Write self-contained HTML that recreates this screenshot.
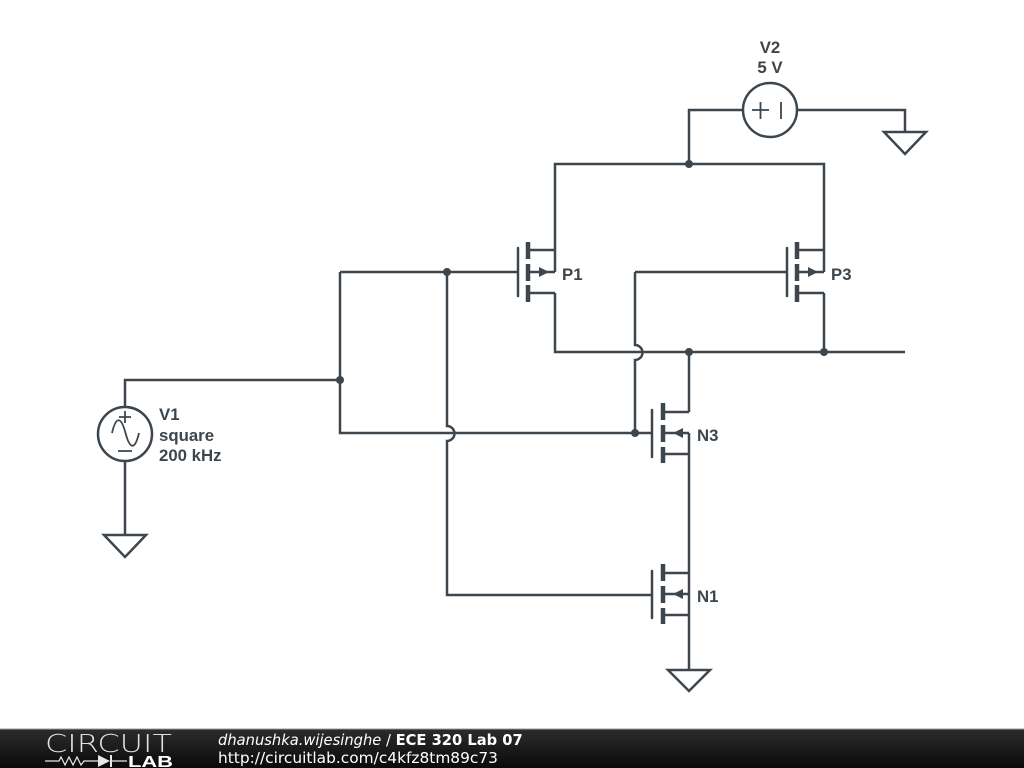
<!DOCTYPE html>
<html>
<head>
<meta charset="utf-8">
<style>
html,body{margin:0;padding:0;width:1024px;height:768px;overflow:hidden;background:#fff}
svg{display:block}
.w{fill:none;stroke:#3d464d;stroke-width:2.5}
.t{fill:none;stroke:#3d464d;stroke-width:1.8}
.c{fill:#3d464d}
.l{font-family:"Liberation Sans",sans-serif;font-weight:bold;font-size:16.8px;fill:#3d464d}
.f{font-family:"DejaVu Sans",sans-serif;font-size:14.7px;fill:#fff}
</style>
</head>
<body>
<svg width="1024" height="768" viewBox="0 0 1024 768" xmlns="http://www.w3.org/2000/svg">
<defs>
<linearGradient id="g" x1="0" y1="0" x2="0" y2="1">
<stop offset="0" stop-color="#2c2c2c"/><stop offset="1" stop-color="#0a0a0a"/>
</linearGradient>
</defs>
<rect width="1024" height="768" fill="#fff"/>

<path class="w" d="M689 164V110H743M797 110H905V132M555 250V164H824V250M689 164"/>
<path class="w" d="M340 272H517M340 272V433H447M125 407V380H340"/>
<path class="w" d="M447 272V426A7.5 7.5 0 0 1 447 441V595H652"/>
<path class="w" d="M447 433H652"/>
<path class="w" d="M635 272H786M635 272V345A7.5 7.5 0 0 1 635 360V433"/>
<path class="w" d="M555 293V352H905M824 293V352M689 352V412M689 433V670"/>
<path class="w" d="M125 461V535"/>

<!-- P1 -->
<g>
<path class="w" d="M518 248V296" stroke-linecap="round"/>
<path class="w" d="M528 250H555M528 272H555M528 293H555"/>
<path class="w" style="stroke-width:4.5" d="M528 242V259M528 264V281M528 285V302"/>
<path class="c" d="M539 267L549 272L539 277Z"/>
</g>
<!-- P3 -->
<g>
<path class="w" d="M787 248V296" stroke-linecap="round"/>
<path class="w" d="M797 250H824M797 272H824M797 293H824"/>
<path class="w" style="stroke-width:4.5" d="M797 242V259M797 264V281M797 285V302"/>
<path class="c" d="M808 267L818 272L808 277Z"/>
</g>
<path class="w" d="M555 250V272M824 250V272"/>
<!-- N3 -->
<g>
<path class="w" d="M652 410V457" stroke-linecap="round"/>
<path class="w" d="M663 412H689M663 433H689M663 454H689"/>
<path class="w" style="stroke-width:4.5" d="M663 403V420M663 425V442M663 447V463"/>
<path class="c" d="M683 428L673 433L683 438Z"/>
</g>
<!-- N1 -->
<g>
<path class="w" d="M652 571V618" stroke-linecap="round"/>
<path class="w" d="M663 573H689M663 594H689M663 615H689"/>
<path class="w" style="stroke-width:4.5" d="M663 564V581M663 586V603M663 608V624"/>
<path class="c" d="M683 589L673 594L683 599Z"/>
</g>

<!-- V2 -->
<circle class="w" cx="770" cy="110" r="27"/>
<path class="t" d="M752 110H769M760.500 102V119M781 102V119"/>
<!-- V1 -->
<circle class="w" cx="125" cy="434" r="27"/>
<path class="t" d="M119 417H131M125 411V423M118 451H132"/>
<path class="t" d="M112 433C116 416 121 416 125.500 433C130 450 135 450 139 433"/>

<!-- grounds -->
<path class="w" d="M884 132H926L905 154Z"/>
<path class="w" d="M104 535H146L125 557Z"/>
<path class="w" d="M668 670H710L689 691Z"/>

<!-- junctions -->
<circle class="c" cx="689" cy="164" r="4"/>
<circle class="c" cx="447" cy="272" r="4"/>
<circle class="c" cx="340" cy="380" r="4"/>
<circle class="c" cx="689" cy="352" r="4"/>
<circle class="c" cx="824" cy="352" r="4"/>
<circle class="c" cx="635" cy="433" r="4"/>

<!-- labels -->
<text class="l" x="562" y="280">P1</text>
<text class="l" x="831" y="280">P3</text>
<text class="l" x="697" y="441">N3</text>
<text class="l" x="697" y="602">N1</text>
<text class="l" x="770" y="53" text-anchor="middle">V2</text>
<text class="l" x="770" y="73" text-anchor="middle">5 V</text>
<text class="l" x="159" y="420">V1</text>
<text class="l" x="159" y="441">square</text>
<text class="l" x="159" y="461">200 kHz</text>

<!-- footer -->
<rect x="0" y="729" width="1024" height="39" fill="url(#g)"/>
<rect x="0" y="728.500" width="1024" height="1" fill="#9a9a9a"/>
<text x="45" y="752" textLength="127" lengthAdjust="spacingAndGlyphs" style="font-family:'DejaVu Sans',sans-serif;font-weight:200;font-size:25px;fill:#e0e0e0">CIRCUIT</text>
<path fill="none" stroke="#e8e8e8" stroke-width="1.2" d="M45 761H59L61 757L65 765L69 757L73 765L77 757L81 765L84 761H98M110 761H127"/>
<path fill="#e8e8e8" d="M98 755L110 761L98 767Z"/>
<path stroke="#e8e8e8" stroke-width="2" d="M111 755V767"/>
<text x="128" y="767" textLength="45" lengthAdjust="spacingAndGlyphs" style="font-family:'Liberation Sans',sans-serif;font-weight:bold;font-size:15.5px;fill:#fff">LAB</text>
<text class="f" x="218" y="745"><tspan font-style="italic">dhanushka.wijesinghe</tspan> / <tspan font-weight="bold">ECE 320 Lab 07</tspan></text>
<text class="f" x="218" y="763" style="font-size:15.4px">http://circuitlab.com/c4kfz8tm89c73</text>
</svg>
</body>
</html>
